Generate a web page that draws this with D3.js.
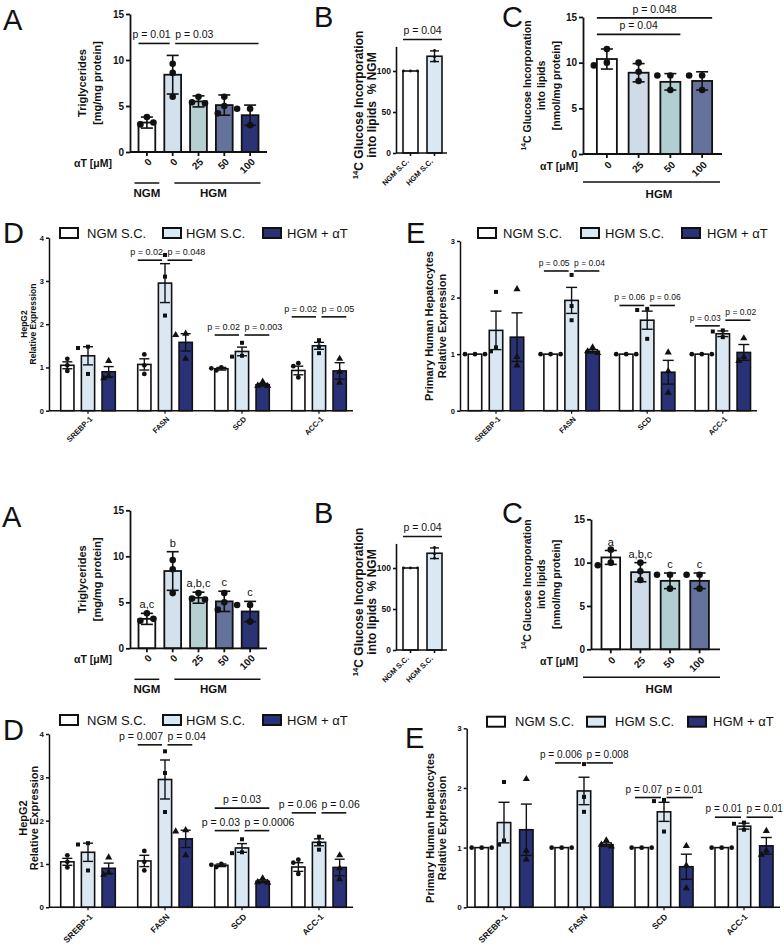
<!DOCTYPE html>
<html><head><meta charset="utf-8">
<script src="https://cdn.jsdelivr.net/npm/d3@7"></script>
<style>body{margin:0;background:#fff} text{white-space:pre}</style>
</head><body>
<script>
// ================= DATA =================
// Panel A: triglycerides
const tgDose = ["0", "0", "25", "50", "100"];
const tgMedium = ["NGM", "HGM", "HGM", "HGM", "HGM"];
const tgMean = [3.2, 8.4, 5.5, 5.1, 4.0];
const tgSD = [0.6, 2.1, 0.6, 1.1, 1.1];
const tgPoints = [[3.8, 3.0, 3.2], [9.6, 8.6, 6.0], [6.0, 5.4, 5.3], [6.0, 5.0, 4.2], [4.7, 4.7, 2.9]];
const tgTicks = [0, 5, 10, 15];
const tgPvals = [{from: 0, to: 1, level: 11.8, label: "p = 0.01"}, {from: 1, to: 4, level: 11.8, label: "p = 0.03"}];
const tgLetters = ["a,c", "b", "a,b,c", "c", "c"];

// Panel B: 14C glucose incorporation, % NGM
const glcCats = ["NGM S.C.", "HGM S.C."];
const glcMean = [100, 118];
const glcSD = [0, 6.5];
const glcPoints = [[100, 100, 100], [125, 112, 117]];
const glcTicks = [0, 50, 100];
const glcPvals = [{from: 0, to: 1, level: 138.5, label: "p = 0.04"}];

// Panel C: 14C glucose incorporation, nmol/mg protein
const incDose = ["0", "25", "50", "100"];
const incMeanTop = [10.4, 8.9, 7.9, 8.0];
const incSDTop = [1.1, 1.0, 0.9, 1.0];
const incMeanBottom = [10.6, 8.9, 7.9, 7.9];
const incSDBottom = [0.8, 1.1, 0.9, 0.9];
const incPoints = [[11.5, 10.0, 9.7], [10.0, 9.0, 8.0], [8.6, 8.6, 7.0], [8.6, 8.6, 7.0]];
const incTicks = [0, 5, 10, 15];
const incPvals = [{from: 0, to: 2, level: 13.1, label: "p = 0.04"}, {from: 0, to: 3, level: 14.9, label: "p = 0.048"}];
const incLetters = ["a", "a,b,c", "c", "c"];

// Panels D/E: gene expression
const genes = ["SREBP-1", "FASN", "SCD", "ACC-1"];
const conditions = ["NGM S.C.", "HGM S.C.", "HGM + αT"];

const hepNgmMean = [1.05, 1.07, 0.97, 0.93];
const hepNgmSem = [0.08, 0.13, 0.03, 0.1];
const hepNgmPts = [[1.2, 1.05, 0.92], [1.3, 1.05, 0.85], [1.0, 0.98, 0.93], [1.1, 1.03, 0.77]];
const hepHgmMean = [1.27, 2.95, 1.37, 1.5];
const hepHgmSem = [0.21, 0.45, 0.1, 0.08];
const hepHgmPts = [[1.48, 1.45, 0.85], [3.6, 3.1, 2.2], [1.57, 1.27, 1.25], [1.63, 1.48, 1.33]];
const hepAtMean = [0.9, 1.58, 0.6, 0.92];
const hepAtSem = [0.12, 0.2, 0.03, 0.19];
const hepAtPts = [[1.15, 0.8, 0.75], [1.78, 1.75, 1.2], [0.67, 0.58, 0.57], [1.2, 0.9, 0.65]];
const hepTicks = [0, 1, 2, 3, 4];
const hepPvalsTop = [
  {gene: "FASN", from: 0, to: 1, level: 3.48, label: "p = 0.02"},
  {gene: "FASN", from: 1, to: 2, level: 3.48, label: "p = 0.048"},
  {gene: "SCD", from: 0, to: 1, level: 1.75, label: "p = 0.02"},
  {gene: "SCD", from: 1, to: 2, level: 1.75, label: "p = 0.003"},
  {gene: "ACC-1", from: 0, to: 1, level: 2.17, label: "p = 0.02"},
  {gene: "ACC-1", from: 1, to: 2, level: 2.17, label: "p = 0.05"}];
const hepPvalsBottom = [
  {gene: "FASN", from: 0, to: 1, level: 3.75, label: "p = 0.007"},
  {gene: "FASN", from: 1, to: 2, level: 3.75, label: "p = 0.04"},
  {gene: "SCD", from: 0, to: 2, level: 2.29, label: "p = 0.03"},
  {gene: "SCD", from: 0, to: 1, level: 1.77, label: "p = 0.03"},
  {gene: "SCD", from: 1, to: 2, level: 1.77, label: "p = 0.0006"},
  {gene: "ACC-1", from: 0, to: 1, level: 2.18, label: "p = 0.06"},
  {gene: "ACC-1", from: 1, to: 2, level: 2.18, label: "p = 0.06"}];

const phhNgmMean = [1.0, 1.0, 1.0, 1.0];
const phhNgmSem = [0, 0, 0, 0];
const phhNgmPts = [[1, 1, 1], [1, 1, 1], [1, 1, 1], [1, 1, 1]];
const phhHgmMean = [1.42, 1.95, 1.6, 1.36];
const phhHgmSem = [0.34, 0.23, 0.16, 0.05];
const phhHgmPts = [[2.1, 1.12, 1.05], [2.4, 1.85, 1.6], [1.8, 1.78, 1.27], [1.42, 1.4, 1.3]];
const phhAtMean = [1.3, 1.05, 0.68, 1.03];
const phhAtSem = [0.43, 0.03, 0.21, 0.14];
const phhAtPts = [[2.15, 0.95, 0.8], [1.12, 1.05, 1.02], [1.03, 0.7, 0.32], [1.28, 0.95, 0.88]];
const phhTicks = [0, 1, 2, 3];
const phhPvalsTop = [
  {gene: "FASN", from: 0, to: 1, level: 2.47, label: "p = 0.05"},
  {gene: "FASN", from: 1, to: 2, level: 2.47, label: "p = 0.04"},
  {gene: "SCD", from: 0, to: 1, level: 1.86, label: "p = 0.06"},
  {gene: "SCD", from: 1, to: 2, level: 1.86, label: "p = 0.06"},
  {gene: "ACC-1", from: 0, to: 1, level: 1.5, label: "p = 0.03"},
  {gene: "ACC-1", from: 1, to: 2, level: 1.6, label: "p = 0.02"}];
const phhPvalsBottom = [
  {gene: "FASN", from: 0, to: 1, level: 2.42, label: "p = 0.006"},
  {gene: "FASN", from: 1, to: 2, level: 2.42, label: "p = 0.008"},
  {gene: "SCD", from: 0, to: 1, level: 1.84, label: "p = 0.07"},
  {gene: "SCD", from: 1, to: 2, level: 1.84, label: "p = 0.01"},
  {gene: "ACC-1", from: 0, to: 1, level: 1.51, label: "p = 0.01"},
  {gene: "ACC-1", from: 1, to: 2, level: 1.51, label: "p = 0.01"}];

// ================= STYLE =================
const FONT = "'Liberation Sans', Arial, Helvetica, sans-serif";
const INK = "#111";
const tgColors = ["#ffffff", "#d3e1ec", "#b4d0d0", "#65739c", "#2a3475"];
const glcColors = ["#ffffff", "#dae8f4"];
const incColors = ["#ffffff", "#cfdbe6", "#b1cfd0", "#65739c"];
const condColors = ["#ffffff", "#dae8f4", "#2a3277"];
const condShapes = [d3.symbolCircle, d3.symbolSquare, d3.symbolTriangle];
const condSizes = [18, 16, 22];

const svg = d3.select("body").append("svg").attr("width", 784).attr("height", 946)
  .attr("font-family", FONT);
svg.append("rect").attr("width", 784).attr("height", 946).attr("fill", "#fff");

// ================= HELPERS =================
function beeswarm(vals, y, r, d) {
  const placed = [];
  return vals.map(v => {
    const py = y(v);
    for (const dx of [0, -d, d, -2 * d, 2 * d]) {
      if (placed.every(p => Math.hypot(p.dx - dx, p.py - py) >= 2 * r + 0.8)) {
        placed.push({dx, py}); return {dx, py};
      }
    }
    placed.push({dx: 0, py}); return {dx: 0, py};
  });
}
function letter(s, x, y) {
  svg.append("text").attr("x", x).attr("y", y).attr("font-size", 29).attr("fill", INK).text(s);
}
function vlabel(g, lines, xs, yc, fs) {
  lines.forEach((ln, i) => {
    const t = g.append("text").attr("transform", `translate(${xs[i]},${yc}) rotate(-90)`)
      .attr("text-anchor", "middle").attr("font-size", fs).attr("font-weight", "bold").attr("fill", INK);
    if (ln.startsWith("14C")) {
      t.append("tspan").attr("font-size", fs * 0.65).attr("dy", (0.35 * fs - 0.42 * fs).toFixed(2)).text("14");
      t.append("tspan").attr("dy", (0.42 * fs).toFixed(2)).text(ln.slice(2));
    } else {
      t.attr("dy", "0.35em").text(ln);
    }
  });
}
function styleAxis(sel, fs, sw) {
  sel.attr("font-family", FONT).attr("font-size", fs).attr("font-weight", "bold");
  sel.selectAll("path,line").attr("stroke", INK).attr("stroke-width", sw);
  sel.selectAll("text").attr("fill", INK);
}
function drawPvals(g, anns, cxFn, y, bw, fs, lift) {
  anns.forEach(a => {
    const sharedTo = anns.some(b => b !== a && b.gene === a.gene && b.from === a.to);
    const sharedFrom = anns.some(b => b !== a && b.gene === a.gene && b.to === a.from);
    let xa = cxFn(a, a.from) - 0.5 * bw, xb = cxFn(a, a.to) + 0.5 * bw;
    if (sharedTo) xb = cxFn(a, a.to) - 3;
    if (sharedFrom) xa = cxFn(a, a.from) + 2.5;
    const ly = y(a.level);
    g.append("line").attr("x1", xa).attr("x2", xb).attr("y1", ly).attr("y2", ly)
      .attr("stroke", INK).attr("stroke-width", 1.6);
    let tx = (xa + xb) / 2, anchor = "middle";
    if (sharedTo) { tx = xb + 1; anchor = "end"; }
    else if (sharedFrom) { tx = xa; anchor = "start"; }
    g.append("text").attr("x", tx).attr("y", ly - lift).attr("text-anchor", anchor)
      .attr("font-size", fs).attr("fill", INK).text(a.label);
  });
}

function simplePanel(o) {
  const g = svg.append("g");
  const n = o.means.length;
  const x = d3.scaleBand().domain(d3.range(n)).range(o.xr).paddingInner(o.pad).paddingOuter(o.pad / 2);
  const y = d3.scaleLinear().domain([0, o.ymax]).range([o.y0, o.ytop]);
  const bw = x.bandwidth();
  const cx = i => x(i) + bw / 2;
  g.selectAll("rect.bar").data(o.means).join("rect").attr("class", "bar")
    .attr("x", (d, i) => x(i)).attr("y", d => y(d)).attr("width", bw).attr("height", d => o.y0 - y(d))
    .attr("fill", (d, i) => o.colors[i]).attr("stroke", INK).attr("stroke-width", o.sw);
  const eb = g.append("g").attr("stroke", INK).attr("stroke-width", o.esw);
  o.means.forEach((m, i) => {
    const s = o.sds[i]; if (!s) return;
    eb.append("line").attr("x1", cx(i)).attr("x2", cx(i)).attr("y1", y(m - s)).attr("y2", y(m + s));
    [m - s, m + s].forEach(v => eb.append("line").attr("x1", cx(i) - o.cap / 2).attr("x2", cx(i) + o.cap / 2)
      .attr("y1", y(v)).attr("y2", y(v)));
  });
  o.pts.forEach((arr, i) => {
    beeswarm(arr, y, o.r, o.jit).forEach(p => g.append("circle")
      .attr("cx", cx(i) + p.dx).attr("cy", p.py).attr("r", o.r).attr("fill", INK));
  });
  const ya = g.append("g").attr("transform", `translate(${o.ax},0)`)
    .call(d3.axisLeft(y).tickValues(o.ticks).tickFormat(d3.format("d")).tickSize(o.tl).tickSizeOuter(0).tickPadding(2));
  styleAxis(ya, o.tfs, o.asw);
  const xa = g.append("g").attr("transform", `translate(0,${o.y0})`)
    .call(d3.axisBottom(x).tickSize(o.tl).tickFormat(""));
  xa.select(".domain").remove();
  styleAxis(xa, o.tfs, o.asw);
  g.append("line").attr("x1", o.ax).attr("x2", o.axEnd).attr("y1", o.y0).attr("y2", o.y0)
    .attr("stroke", INK).attr("stroke-width", o.asw);
  o.labels.forEach((l, i) => g.append("text")
    .attr("transform", `translate(${cx(i) + o.lx},${o.y0 + o.ly}) rotate(-45)`)
    .attr("text-anchor", "end").attr("dy", "0.35em").attr("font-size", o.lfs)
    .attr("font-weight", "bold").attr("fill", INK).text(l));
  if (o.letters) o.letters.forEach((l, i) => g.append("text").attr("x", cx(i))
    .attr("y", y(o.means[i] + o.sds[i]) - 5).attr("text-anchor", "middle")
    .attr("font-size", 11).attr("fill", INK).text(l));
  if (o.pvals) drawPvals(g, o.pvals, (a, i) => cx(i), y, bw, o.pfs, 5);
  return {g, x, y, cx, bw};
}

function groupedPanel(o) {
  const g = svg.append("g");
  const x0 = d3.scaleBand().domain(genes).range(o.gr);
  const x1 = d3.scaleBand().domain(conditions).range(o.ir).paddingInner(o.pad).paddingOuter(o.pad / 2);
  const y = d3.scaleLinear().domain([0, o.ymax]).range([o.y0, o.ytop]);
  const bw = x1.bandwidth();
  const gc = gi => x0(genes[gi]) + x0.bandwidth() / 2;
  const cx = (gi, ci) => gc(gi) + x1(conditions[ci]) + bw / 2;
  o.series.forEach((s, ci) => {
    g.selectAll(null).data(s.mean).join("rect")
      .attr("x", (d, gi) => cx(gi, ci) - bw / 2).attr("y", d => y(d)).attr("width", bw)
      .attr("height", d => o.y0 - y(d)).attr("fill", condColors[ci]).attr("stroke", INK).attr("stroke-width", 1.6);
  });
  o.series.forEach((s, ci) => {
    s.mean.forEach((m, gi) => {
      const e = s.sem[gi];
      if (e > 0) {
        const c = cx(gi, ci);
        g.append("line").attr("x1", c).attr("x2", c).attr("y1", y(m - e)).attr("y2", y(m + e))
          .attr("stroke", INK).attr("stroke-width", 1.4);
        [m - e, m + e].forEach(v => g.append("line").attr("x1", c - o.cap / 2).attr("x2", c + o.cap / 2)
          .attr("y1", y(v)).attr("y2", y(v)).attr("stroke", INK).attr("stroke-width", 1.4));
      }
      const sym = d3.symbol().type(condShapes[ci]).size(condSizes[ci]);
      beeswarm(s.pts[gi], y, 2.3, 5).forEach(p => g.append("path").attr("d", sym)
        .attr("transform", `translate(${cx(gi, ci) + p.dx},${p.py})`).attr("fill", INK));
    });
  });
  const ya = g.append("g").attr("transform", `translate(${o.ax},0)`)
    .call(d3.axisLeft(y).tickValues(o.ticks).tickFormat(d3.format("d")).tickSize(3).tickSizeOuter(0).tickPadding(2));
  styleAxis(ya, o.tfs, 1.5);
  g.append("line").attr("x1", o.ax).attr("x2", o.axEnd).attr("y1", o.y0).attr("y2", o.y0)
    .attr("stroke", INK).attr("stroke-width", 1.5);
  genes.forEach((gn, gi) => {
    g.append("line").attr("x1", gc(gi)).attr("x2", gc(gi)).attr("y1", o.y0).attr("y2", o.y0 + 3)
      .attr("stroke", INK).attr("stroke-width", 1.2);
    g.append("text").attr("transform", `translate(${gc(gi) + o.lx},${o.y0 + o.ly}) rotate(-45)`)
      .attr("text-anchor", "end").attr("dy", "0.35em").attr("font-size", o.lfs).attr("font-weight", "bold")
      .attr("fill", INK).text(gn);
  });
  conditions.forEach((c, ci) => {
    g.append("rect").attr("x", o.legBox[ci]).attr("y", o.legY - 5).attr("width", 18).attr("height", 10)
      .attr("fill", condColors[ci]).attr("stroke", INK).attr("stroke-width", 2);
    g.append("text").attr("x", o.legText[ci]).attr("y", o.legY).attr("dy", "0.35em")
      .attr("font-size", 13).attr("fill", INK).text(c);
  });
  vlabel(g, o.ylab, o.ylabX, o.ylabY, o.ylabFs);
  drawPvals(g, o.pvals, (a, ci) => cx(genes.indexOf(a.gene), ci), y, bw, o.pfs, 5);
  return g;
}

function bracket(x1, x2, y, label, lx, ly, fs) {
  svg.append("line").attr("x1", x1).attr("x2", x2).attr("y1", y).attr("y2", y)
    .attr("stroke", INK).attr("stroke-width", 1.5);
  svg.append("text").attr("x", lx).attr("y", ly).attr("text-anchor", "middle")
    .attr("font-size", fs).attr("font-weight", "bold").attr("fill", INK).text(label);
}
function doseLabel(x, y) {
  svg.append("text").attr("x", x).attr("y", y).attr("text-anchor", "end").attr("font-size", 10.5)
    .attr("font-weight", "bold").attr("fill", INK).text("αT [μM]");
}

// ================= PANEL A (top & bottom) =================
function panelA(yOff, withP) {
  const y0 = 152 + yOff, ytop = 14 + yOff;
  const p = simplePanel({means: tgMean, sds: tgSD, pts: tgPoints, colors: tgColors, labels: tgDose,
    xr: [134, 263], pad: 0.35, ax: 130, axEnd: 267, y0, ytop, ymax: 15, ticks: tgTicks,
    sw: 1.8, esw: 1.6, cap: 12, r: 3.3, jit: 6.5, tl: 4, tfs: 10, asw: 1.8, lx: 3, ly: 8, lfs: 10,
    pvals: withP ? tgPvals : null, pfs: 10.5, letters: withP ? null : tgLetters});
  vlabel(svg, ["Triglycerides", "[mg/mg protein]"], [82, 97], (y0 + ytop) / 2, 11);
  doseLabel(112, y0 + 15);
  const bw = p.bw;
  const ngmIdx = tgMedium.indexOf("NGM"), hgmIdx = tgMedium.indexOf("HGM");
  const x1n = p.x(ngmIdx) - 4, x2n = p.x(ngmIdx) + bw + 4;
  const x1h = p.x(hgmIdx) + bw * 0.6, x2h = p.x(tgMedium.length - 1) + bw + 2;
  bracket(x1n, x2n, y0 + 31, "NGM", (x1n + x2n) / 2, y0 + 45, 11.5);
  bracket(x1h, x2h, y0 + 31, "HGM", (x1h + x2h) / 2 - 4, y0 + 45, 11.5);
}
panelA(0, true);
panelA(496.3, false);
letter("A", 3, 30);
letter("A", 2, 527);

// ================= PANEL B =================
function panelB(y0) {
  simplePanel({means: glcMean, sds: glcSD, pts: glcPoints, colors: glcColors, labels: glcCats,
    xr: [398.5, 446.5], pad: 0.375, ax: 396, axEnd: 447, y0, ytop: y0 - 130 * 0.82, ymax: 130, ticks: glcTicks,
    sw: 1.6, esw: 1.4, cap: 9, r: 1.4, jit: 3.5, tl: 3, tfs: 8.5, asw: 1.6, lx: -3, ly: 7, lfs: 7.5,
    pvals: glcPvals, pfs: 10.5});
  vlabel(svg, ["14C Glucose Incorporation", "into lipids  % NGM"], [359, 372], y0 - 48, 12);
}
panelB(153);
panelB(650);
letter("B", 314, 27);
letter("B", 314, 523);

// ================= PANEL C =================
panelC(154, 17, incMeanTop, incSDTop, [591, 718], 583, 722, true);
panelC(649.3, 519.3, incMeanBottom, incSDBottom, [596, 714.4], 591, 720, false);
function panelC(y0, ytop, means, sds, xr, ax, axEnd, withP) {
  simplePanel({means, sds, pts: incPoints, colors: incColors, labels: incDose,
    xr, pad: 0.37, ax, axEnd, y0, ytop, ymax: 15, ticks: incTicks,
    sw: 1.8, esw: 1.6, cap: 12, r: 3.3, jit: 6.5, tl: 4, tfs: 10, asw: 1.8, lx: 3, ly: 9, lfs: 10,
    pvals: withP ? incPvals : null, pfs: 10.5, letters: withP ? null : incLetters});
  vlabel(svg, ["14C Glucose Incorporation", "into lipids", "[nmol/mg protein]"], [527, 541, 556], (y0 + ytop) / 2, 10.5);
  doseLabel(578, y0 + 16);
  bracket(583, 720, y0 + 28, "HGM", 659, y0 + 44, 11.5);
}
letter("C", 502, 27);
letter("C", 502, 523);

// ================= PANEL D =================
const hepSeries = [
  {mean: hepNgmMean, sem: hepNgmSem, pts: hepNgmPts},
  {mean: hepHgmMean, sem: hepHgmSem, pts: hepHgmPts},
  {mean: hepAtMean, sem: hepAtSem, pts: hepAtPts}];
groupedPanel({series: hepSeries, gr: [49.5, 357.5], ir: [-31, 31], pad: 0.36, ax: 49, axEnd: 353,
  y0: 410.7, ytop: 237.7, ymax: 4, ticks: hepTicks, tfs: 7.5, cap: 10, lx: 3, ly: 7, lfs: 7.5,
  legY: 233, legBox: [60, 163, 263], legText: [87, 186, 287],
  ylab: ["HepG2", "Relative Expression"], ylabX: [24, 33], ylabY: 324, ylabFs: 8.5,
  pvals: hepPvalsTop, pfs: 9});
groupedPanel({series: hepSeries, gr: [49.5, 357.5], ir: [-31, 31], pad: 0.36, ax: 49, axEnd: 353,
  y0: 907.3, ytop: 734, ymax: 4, ticks: hepTicks, tfs: 8, cap: 10, lx: 3, ly: 8, lfs: 8.5,
  legY: 720, legBox: [60, 163, 263], legText: [87, 186, 287],
  ylab: ["HepG2", "Relative Expression"], ylabX: [23, 34], ylabY: 818, ylabFs: 11,
  pvals: hepPvalsBottom, pfs: 10.5});
letter("D", 3, 243);
letter("D", 3, 740);

// ================= PANEL E =================
const phhSeries = [
  {mean: phhNgmMean, sem: phhNgmSem, pts: phhNgmPts},
  {mean: phhHgmMean, sem: phhHgmSem, pts: phhHgmPts},
  {mean: phhAtMean, sem: phhAtSem, pts: phhAtPts}];
groupedPanel({series: phhSeries, gr: [458.2, 760.6], ir: [-31.5, 31.5], pad: 0.36, ax: 460, axEnd: 757,
  y0: 410.7, ytop: 241, ymax: 3, ticks: phhTicks, tfs: 7.5, cap: 11, lx: 3, ly: 7, lfs: 7.5,
  legY: 233, legBox: [478, 581, 682], legText: [503, 605, 707],
  ylab: ["Primary Human Hepatocytes", "Relative Expression"], ylabX: [429, 442], ylabY: 326, ylabFs: 11,
  pvals: phhPvalsTop, pfs: 8.5});
groupedPanel({series: phhSeries, gr: [464, 784], ir: [-33.5, 33.5], pad: 0.4, ax: 466.7, axEnd: 780,
  y0: 907.3, ytop: 728.3, ymax: 3, ticks: phhTicks, tfs: 8, cap: 11, lx: 2, ly: 8, lfs: 8.5,
  legY: 721.7, legBox: [487, 587, 688], legText: [515, 615, 713],
  ylab: ["Primary Human Hepatocytes", "Relative Expression"], ylabX: [430, 442], ylabY: 828, ylabFs: 11,
  pvals: phhPvalsBottom, pfs: 10});
letter("E", 406, 243);
letter("E", 405, 748);
</script>
</body></html>
